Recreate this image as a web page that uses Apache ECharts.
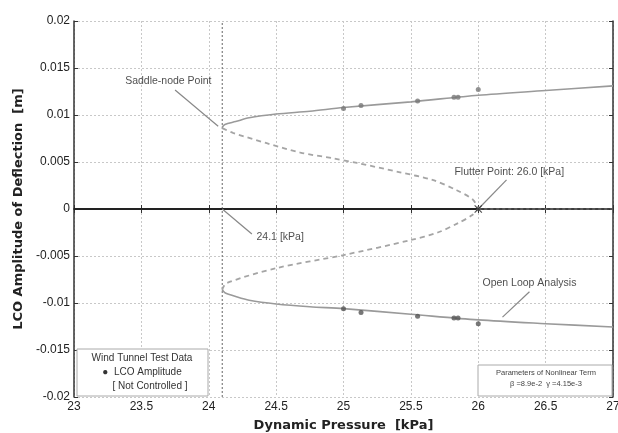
<!DOCTYPE html>
<html><head><meta charset="utf-8">
<script src="https://cdn.jsdelivr.net/npm/echarts@6/dist/echarts.min.js"></script>
<style>html,body{margin:0;padding:0;background:#fff}#c{width:618px;height:433px}</style>
</head><body><div id="c"></div>
<script>
// ---- data ----
const xTicks = [23, 23.5, 24, 24.5, 25, 25.5, 26, 26.5, 27];
const yTicks = [-0.02, -0.015, -0.01, -0.005, 0, 0.005, 0.01, 0.015, 0.02];

// stable LCO branch (open loop analysis), upper and lower
const stableUpperQ = [24.1, 24.12, 24.2, 24.3, 24.5, 24.75, 25.0, 25.5, 26.0, 26.5, 27.0];
const stableUpperA = [0.0087, 0.0090, 0.0093, 0.0097, 0.0101, 0.0104, 0.0108, 0.0114, 0.0121, 0.0126, 0.0131];
const stableLowerQ = [24.1, 24.12, 24.2, 24.3, 24.5, 24.75, 25.0, 25.5, 26.0, 26.5, 27.0];
const stableLowerA = [-0.0086, -0.0089, -0.0093, -0.0097, -0.0101, -0.0104, -0.0106, -0.0112, -0.0118, -0.0122, -0.01255];

// unstable branch (dashed)
const unstableUpperQ = [24.1, 24.18, 24.43, 24.68, 24.92, 25.1, 25.42, 25.66, 25.84, 25.96, 26.0];
const unstableUpperA = [0.0086, 0.0081, 0.0070, 0.0060, 0.0054, 0.0049, 0.0039, 0.0031, 0.0020, 0.0010, 0.0];
const unstableLowerQ = [24.1, 24.13, 24.5, 25.0, 25.5, 25.7, 25.85, 25.95, 26.0];
const unstableLowerA = [-0.0086, -0.0079, -0.0063, -0.0049, -0.0033, -0.0025, -0.0015, -0.0007, 0.0];

// wind tunnel test data (LCO amplitude, not controlled)
const testQ = [25.0, 25.13, 25.55, 25.82, 25.85, 26.0];
const testUpperA = [0.0107, 0.0110, 0.0115, 0.0119, 0.0119, 0.0127];
const testLowerA = [-0.0106, -0.0110, -0.0114, -0.0116, -0.0116, -0.0122];

const saddleQ = 24.1;
const flutterQ = 26.0;

// annotations: text anchor [q, a] and leader line endpoints
const annotTexts = [
  [23.70, 0.0136, 'Saddle-node Point'],
  [26.23, 0.0039, 'Flutter Point: 26.0 [kPa]'],
  [24.53, -0.0030, '24.1 [kPa]'],
  [26.38, -0.0079, 'Open Loop Analysis']
];
const leaderLines = [
  [[23.75, 0.01266], [24.07, 0.0088]],
  [[26.21, 0.0031], [26.0, 0.0]],
  [[24.1, 0.0], [24.32, -0.00266]],
  [[26.38, -0.0088], [26.18, -0.0115]]
];

const zip = (a, b) => a.map((v, i) => [v, b[i]]);

const chart = echarts.init(document.getElementById('c'));
const axisLabelStyle = {color: '#222', fontSize: 12, fontFamily: 'Liberation Sans, Arial'};
const gridLeft = 74, gridRight = 5, gridTop = 21, gridBottom = 36;

const series = [
  // vertical saddle line
  {type: 'line', data: [[saddleQ, -0.02], [saddleQ, 0.02]], symbol: 'none', silent: true,
   lineStyle: {color: '#666', width: 1, type: [2, 2]}, z: 2},
  // zero line
  {type: 'line', data: [[23, 0], [flutterQ, 0]], symbol: 'none', lineStyle: {color: '#222', width: 2.2}, z: 3},
  {type: 'line', data: [[flutterQ, 0], [27, 0]], symbol: 'none', lineStyle: {color: '#777', width: 1, type: [3, 3]}, z: 3},
  // stable
  {type: 'line', data: zip(stableUpperQ, stableUpperA), symbol: 'none', smooth: 0.3, lineStyle: {color: '#9a9a9a', width: 1.6}, z: 4},
  {type: 'line', data: zip(stableLowerQ, stableLowerA), symbol: 'none', smooth: 0.3, lineStyle: {color: '#9a9a9a', width: 1.6}, z: 4},
  // unstable
  {type: 'line', data: zip(unstableUpperQ, unstableUpperA), symbol: 'none', smooth: 0.3, lineStyle: {color: '#a5a5a5', width: 1.8, type: [5, 4]}, z: 4},
  {type: 'line', data: zip(unstableLowerQ, unstableLowerA), symbol: 'none', smooth: 0.3, lineStyle: {color: '#a5a5a5', width: 1.8, type: [5, 4]}, z: 4},
  // test data
  {type: 'scatter', data: zip(testQ, testUpperA), symbol: 'circle', symbolSize: 5, itemStyle: {color: '#777'}, z: 6},
  {type: 'scatter', data: zip(testQ, testLowerA), symbol: 'circle', symbolSize: 5, itemStyle: {color: '#555'}, z: 6},
  // flutter point X
  {type: 'scatter', data: [[flutterQ, 0]], symbol: 'path://M0,1L1,0L5,4L9,0L10,1L6,5L10,9L9,10L5,6L1,10L0,9L4,5Z',
   symbolSize: 8, itemStyle: {color: '#222'}, z: 7},
  // annotation texts
  {type: 'scatter', data: annotTexts, symbolSize: 0, z: 8,
   label: {show: true, position: 'inside', formatter: p => p.data[2], color: '#222', fontSize: 10.5,
     fontFamily: 'Liberation Sans, Arial'}}
];
leaderLines.forEach(l => series.push({type: 'line', data: l, symbol: 'none', lineStyle: {color: '#888', width: 1.2}, z: 5}));

chart.setOption({
  animation: false,
  backgroundColor: '#fff',
  grid: {left: gridLeft, right: gridRight, top: gridTop, bottom: gridBottom, containLabel: false, outerBoundsMode: 'none'},
  xAxis: [{
    type: 'value', min: 23, max: 27, interval: 0.5,
    name: 'Dynamic Pressure  [kPa]', nameLocation: 'middle', nameGap: 22,
    nameTextStyle: {color: '#222', fontSize: 13, fontWeight: 'bold', fontFamily: 'DejaVu Sans, Verdana'},
    axisLine: {show: true, lineStyle: {color: '#333', width: 1.5}},
    axisTick: {show: true, inside: true, length: 4, lineStyle: {color: '#333'}},
    axisLabel: Object.assign({margin: 4, formatter: v => String(+v.toFixed(2))}, axisLabelStyle),
    splitLine: {show: true, lineStyle: {color: '#c8c8c8', type: [2, 2]}}
  }, {
    type: 'value', min: 23, max: 27, interval: 0.5, position: 'top',
    axisLine: {show: true, lineStyle: {color: '#333', width: 1.5}},
    axisTick: {show: true, inside: true, length: 4, lineStyle: {color: '#333'}},
    axisLabel: {show: false}, splitLine: {show: false}
  }],
  yAxis: [{
    type: 'value', min: -0.02, max: 0.02, interval: 0.005,
    name: 'LCO Amplitude of Deflection  [m]', nameLocation: 'middle', nameGap: 49,
    nameTextStyle: {color: '#222', fontSize: 13, fontWeight: 'bold', fontFamily: 'DejaVu Sans, Verdana'},
    axisLine: {show: true, lineStyle: {color: '#333', width: 1.5}},
    axisTick: {show: true, inside: true, length: 4, lineStyle: {color: '#333'}},
    axisLabel: Object.assign({margin: 4, formatter: v => String(+v.toFixed(3))}, axisLabelStyle),
    splitLine: {show: true, lineStyle: {color: '#c8c8c8', type: [2, 2]}}
  }, {
    type: 'value', min: -0.02, max: 0.02, interval: 0.005, position: 'right',
    axisLine: {show: true, lineStyle: {color: '#333', width: 1.5}},
    axisTick: {show: true, inside: true, length: 4, lineStyle: {color: '#333'}},
    axisLabel: {show: false}, splitLine: {show: false}
  }],
  graphic: [
    {type: 'rect', shape: {x: 77, y: 349, width: 131, height: 47}, style: {fill: '#fff', stroke: '#aaa', lineWidth: 1}, z: 20},
    {type: 'text', x: 142, y: 358, style: {text: 'Wind Tunnel Test Data', fill: '#333', font: '10px Liberation Sans', align: 'center', verticalAlign: 'middle'}, z: 21},
    {type: 'text', x: 142, y: 372, style: {text: '●  LCO Amplitude', fill: '#333', font: '10px Liberation Sans', align: 'center', verticalAlign: 'middle'}, z: 21},
    {type: 'text', x: 150, y: 386, style: {text: '[ Not Controlled ]', fill: '#333', font: '10px Liberation Sans', align: 'center', verticalAlign: 'middle'}, z: 21},
    {type: 'rect', shape: {x: 478, y: 365, width: 134, height: 31}, style: {fill: '#fff', stroke: '#aaa', lineWidth: 1}, z: 20},
    {type: 'text', x: 546, y: 373, style: {text: 'Parameters of Nonlinear Term', fill: '#444', font: '7.5px Liberation Sans', align: 'center', verticalAlign: 'middle'}, z: 21},
    {type: 'text', x: 546, y: 384, style: {text: 'β =8.9e-2  γ =4.15e-3', fill: '#444', font: '7.5px Liberation Sans', align: 'center', verticalAlign: 'middle'}, z: 21}
  ],
  series: series
});
</script></body></html>
